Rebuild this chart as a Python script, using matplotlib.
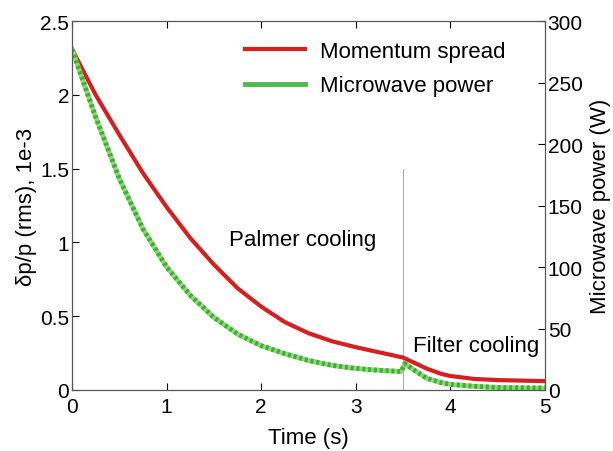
import numpy as np
import matplotlib.pyplot as plt

plt.rcParams['font.family'] = ['Liberation Sans', 'DejaVu Sans']

# momentum spread (left axis, 1e-3)
t_dp = [0, 0.25, 0.5, 0.75, 1.0, 1.25, 1.5, 1.75, 2.0, 2.25, 2.5, 2.75, 3.0, 3.25, 3.5,
        3.6, 3.75, 3.9, 4.0, 4.25, 4.5, 5.0]
dp = [2.31, 2.00, 1.73, 1.47, 1.24, 1.03, 0.85, 0.69, 0.565, 0.46, 0.385, 0.33, 0.29, 0.255, 0.22,
      0.19, 0.145, 0.11, 0.095, 0.075, 0.067, 0.06]

# microwave power (right axis, W)
t_pw = [0, 0.25, 0.5, 0.75, 1.0, 1.25, 1.5, 1.75, 2.0, 2.25, 2.5, 2.75, 3.0, 3.25, 3.48,
        3.52, 3.6, 3.75, 3.9, 4.0, 4.25, 4.5, 5.0]
pw = [277, 222, 172, 131, 100, 77, 59, 45.5, 36, 29.5, 24, 20, 17.5, 16, 15,
      21.5, 17, 9.5, 6, 4.5, 3, 2, 1.5]

fig = plt.figure(figsize=(6.13, 4.52), dpi=100)
ax = fig.add_axes([0.1175, 0.135, 0.7715, 0.816])
ax2 = ax.twinx()

ax.plot([3.5, 3.5], [0, 1.5], color='#b0b0b0', linewidth=0.8)
ax.plot(t_dp, dp, color='#d42020', linewidth=3, zorder=3, solid_joinstyle='round')
ax2.plot(t_pw, pw, color='#8fd870', linewidth=3.5, zorder=2, solid_joinstyle='round')
ax2.plot(t_pw, pw, color='#3cae3c', linewidth=3.5, linestyle=(0, (0.6, 0.6)), zorder=2)

ax.set_xlim(0, 5)
ax.set_ylim(0, 2.5)
ax2.set_ylim(0, 300)
ax.set_xticks([0, 1, 2, 3, 4, 5])
ax.set_yticks([0, 0.5, 1, 1.5, 2, 2.5])
ax.set_yticklabels(['0', '0.5', '1', '1.5', '2', '2.5'])
ax2.set_yticks([0, 50, 100, 150, 200, 250, 300])

for a in (ax, ax2):
    a.tick_params(direction='in', labelsize=15, length=5, width=0.8, pad=2)
    for s in a.spines.values():
        s.set_color('#555555')
ax.tick_params(top=True)
ax.tick_params(axis='x', pad=5)

ax.set_xlabel('Time (s)', fontsize=16, labelpad=8)
ax.set_ylabel('δp/p (rms), 1e-3', fontsize=16, labelpad=2)
ax2.set_ylabel('Microwave power (W)', fontsize=16, labelpad=5)

ax.text(2.44, 1.02, 'Palmer cooling', fontsize=16, ha='center', va='center')
ax.text(4.27, 0.3, 'Filter cooling', fontsize=16, ha='center', va='center')

h1, = ax.plot([], [], color='#d42020', linewidth=3)
h2, = ax.plot([], [], color='#4cba4c', linewidth=3.5)
ax.legend([h1, h2], ['Momentum spread', 'Microwave power'], loc='upper left',
          frameon=False, fontsize=16, handlelength=2.7, labelspacing=0.6,
          handletextpad=0.68, bbox_to_anchor=(0.323, 1.0))

fig.savefig('out.png', dpi=100)
